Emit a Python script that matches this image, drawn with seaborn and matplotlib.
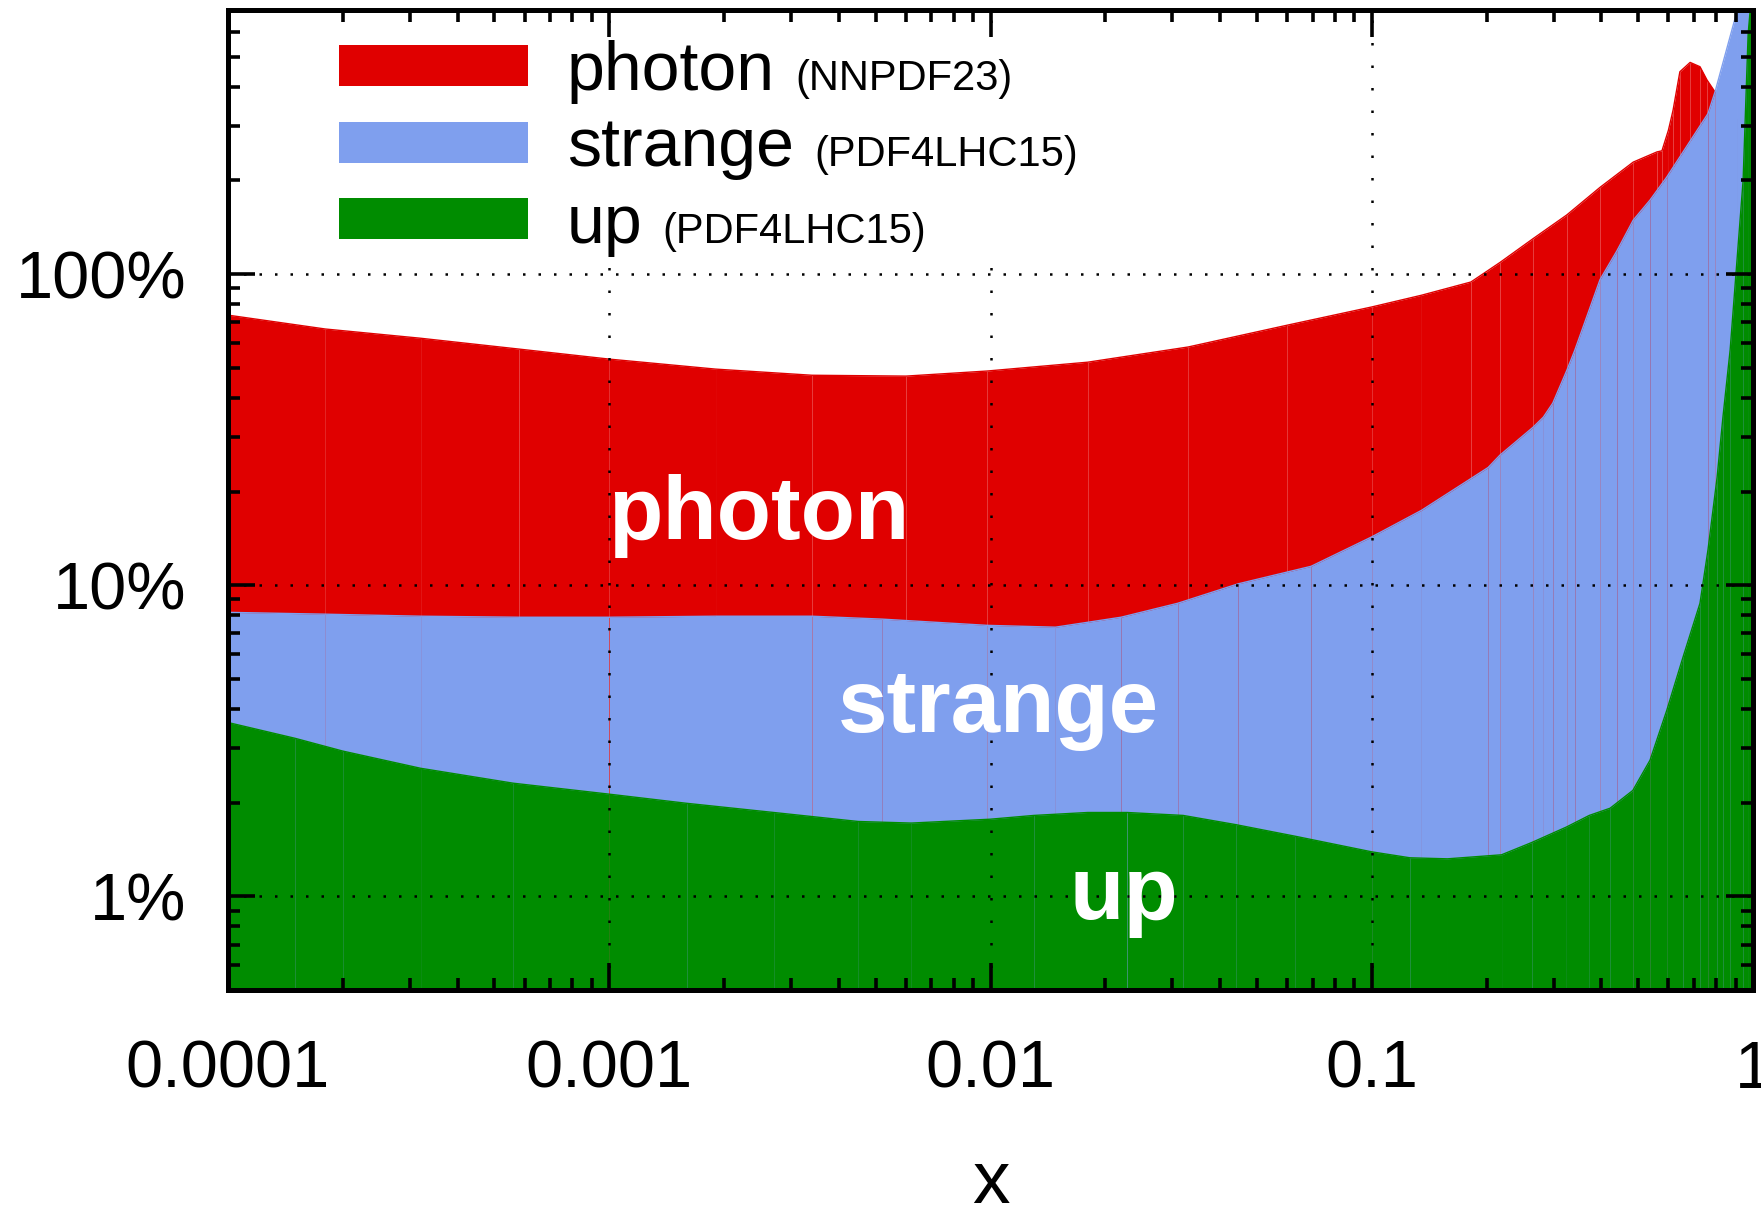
import numpy as np
import matplotlib
matplotlib.use("Agg")
import matplotlib.pyplot as plt
from matplotlib.patches import Rectangle
from matplotlib.ticker import FixedLocator, LogLocator, NullFormatter
import seaborn as sns

# Relative PDF uncertainties (percent) versus momentum fraction x
x_photon = [1.0e-4, 1.8e-4, 3.2e-4, 5.8e-4, 1.0e-3, 1.9e-3, 3.4e-3, 6.0e-3, 9.8e-3,
            0.018, 0.033, 0.060, 0.10, 0.135, 0.182, 0.217, 0.265, 0.325, 0.397,
            0.485, 0.56, 0.577, 0.60, 0.617, 0.643, 0.684, 0.726, 0.757, 0.795,
            0.87, 1.0]
photon_pct = [73.8, 66.6, 62.2, 57.4, 53.3, 49.5, 47.3, 47.0, 48.8,
              52.1, 58.3, 68.5, 78.4, 85.5, 94.3, 109, 130, 155, 190,
              229, 247, 249, 290, 336, 447, 479, 464, 421, 385,
              330, 280]

x_strange = [1.0e-4, 1.8e-4, 3.2e-4, 5.8e-4, 1.0e-3, 1.9e-3, 3.4e-3, 5.2e-3, 9.8e-3,
             0.0148, 0.022, 0.031, 0.0446, 0.0693, 0.10, 0.135, 0.202, 0.217,
             0.265, 0.282, 0.2985, 0.325, 0.341, 0.397, 0.44, 0.485, 0.537,
             0.594, 0.762, 0.795, 0.908, 1.0]
strange_pct = [8.18, 8.07, 7.95, 7.89, 7.89, 7.95, 7.95, 7.78, 7.43,
               7.33, 7.89, 8.75, 10.1, 11.5, 14.3, 17.4, 23.9, 26.2,
               32.2, 34.7, 38.5, 49.1, 57, 96, 119, 149, 173,
               205, 328, 385, 700, 900]

x_up = [1.0e-4, 1.5e-4, 2.0e-4, 3.2e-4, 5.6e-4, 1.0e-3, 1.6e-3, 2.7e-3, 4.5e-3,
        6.2e-3, 0.010, 0.013, 0.018, 0.0228, 0.032, 0.044, 0.063, 0.10, 0.126,
        0.158, 0.219, 0.263, 0.324, 0.372, 0.422, 0.484, 0.537, 0.594, 0.655,
        0.726, 0.762, 0.805, 0.834, 0.871, 0.942, 0.971, 1.0]
up_pct = [3.62, 3.22, 2.93, 2.58, 2.31, 2.13, 1.99, 1.86, 1.74,
          1.72, 1.77, 1.82, 1.86, 1.86, 1.82, 1.70, 1.56, 1.39, 1.33,
          1.32, 1.36, 1.49, 1.67, 1.82, 1.92, 2.19, 2.74, 3.96, 5.86,
          8.75, 13.0, 22.2, 34.7, 57, 200, 590, 900]

series_names = ["photon", "strange", "up"]
pdf_sets = ["(NNPDF23)", "(PDF4LHC15)", "(PDF4LHC15)"]
series_colors = ["#e00000", "#7f9fee", "#008c00"]

x_tick_values = [1e-4, 1e-3, 1e-2, 1e-1, 1.0]
x_tick_labels = ["0.0001", "0.001", "0.01", "0.1", "1"]
y_tick_values = [1, 10, 100]
y_tick_labels = ["1%", "10%", "100%"]

# positions (data coords) of the in-plot white labels
label_pos = {"photon": (0.00247, 14.06), "strange": (0.01047, 3.37), "up": (0.0224, 0.843)}

sns.set_theme(style="ticks")
plt.rcParams["font.family"] = ["Liberation Sans", "DejaVu Sans"]

W, H = 1761, 1207
fig = plt.figure(figsize=(W / 100, H / 100), dpi=100)
ax = fig.add_axes([228 / W, 217 / H, 1525 / W, 980 / H])
ax.set_xscale("log")
ax.set_yscale("log")

curves = [(x_photon, photon_pct), (x_strange, strange_pct), (x_up, up_pct)]
for i, ((xs, ys), color) in enumerate(zip(curves, series_colors)):
    xs = np.asarray(xs, float)
    ys = np.asarray(ys, float)
    z = 1.0 + 0.1 * i
    # one polygon per interval, filled down to below the axis floor
    for k in range(len(xs) - 1):
        ax.fill_between(xs[k:k + 2], 0.1, ys[k:k + 2], color=color,
                        linewidth=0, antialiased=True, zorder=z)
    sns.lineplot(x=xs, y=ys, color=color, linewidth=1.0, ax=ax,
                 zorder=z + 0.05, estimator=None)

ax.set_xlim(1e-4, 1.0)
ax.set_ylim(0.5, 706)

# ticks
ax.xaxis.set_major_locator(FixedLocator(x_tick_values))
ax.xaxis.set_ticklabels(x_tick_labels)
ax.yaxis.set_major_locator(FixedLocator(y_tick_values))
ax.yaxis.set_ticklabels(y_tick_labels)
ax.xaxis.set_minor_locator(LogLocator(base=10, subs=np.arange(2, 10), numticks=20))
ax.yaxis.set_minor_locator(LogLocator(base=10, subs=np.arange(2, 10), numticks=20))
ax.xaxis.set_minor_formatter(NullFormatter())
ax.yaxis.set_minor_formatter(NullFormatter())
ax.tick_params(which="both", direction="in", top=True, right=True,
               color="black", width=2.6)
ax.tick_params(which="major", length=19.5)
ax.tick_params(which="minor", length=8.5)
ax.tick_params(axis="x", which="major", labelsize=48, pad=36, labelcolor="black")
ax.tick_params(axis="y", which="major", labelsize=48, pad=30, labelcolor="black")

for sp in ax.spines.values():
    sp.set_visible(True)
    sp.set_linewidth(3.6)
    sp.set_color("black")

# dotted grid on top of the filled areas
ax.set_axisbelow(False)
ax.xaxis.grid(True, which="major", color="black", linewidth=1.8, linestyle=(0, (1, 8)))
ax.yaxis.grid(True, which="major", color="black", linewidth=1.8, linestyle=(0, (1, 5.2)))
ax.xaxis.grid(False, which="minor")
ax.yaxis.grid(False, which="minor")

ax.set_xlabel("x", fontsize=54, labelpad=34, color="black")

# labels inside the areas
for name in series_names:
    px, py = label_pos[name]
    ax.text(px, py, name, color="white", fontsize=64, fontweight="bold",
            ha="center", va="baseline", zorder=3)

# legend
ax.add_patch(Rectangle((0.05, 0.745), 0.55, 0.224, transform=ax.transAxes,
                       facecolor="white", edgecolor="none", zorder=2.6))
row_bottoms = [0.9224, 0.8439, 0.7663]
row_baselines = [0.918, 0.8408, 0.762]
main_texts = []
for name, color, yb, ybl in zip(series_names, series_colors, row_bottoms, row_baselines):
    ax.add_patch(Rectangle((0.0728, yb), 0.124, 0.042, transform=ax.transAxes,
                           facecolor=color, edgecolor="none", zorder=2.7))
    t = ax.text(0.2223, ybl, name, transform=ax.transAxes, fontsize=49,
                color="black", ha="left", va="baseline", zorder=2.8)
    main_texts.append(t)

fig.canvas.draw()
renderer = fig.canvas.get_renderer()
for t, sub, ybl in zip(main_texts, pdf_sets, row_baselines):
    bb = t.get_window_extent(renderer)
    xa = ax.transAxes.inverted().transform((bb.x1 + 20, 0))[0]
    ax.text(xa, ybl, sub, transform=ax.transAxes, fontsize=30, color="black",
            ha="left", va="baseline", zorder=2.8)

fig.savefig("out.png", dpi=100, facecolor="white")
